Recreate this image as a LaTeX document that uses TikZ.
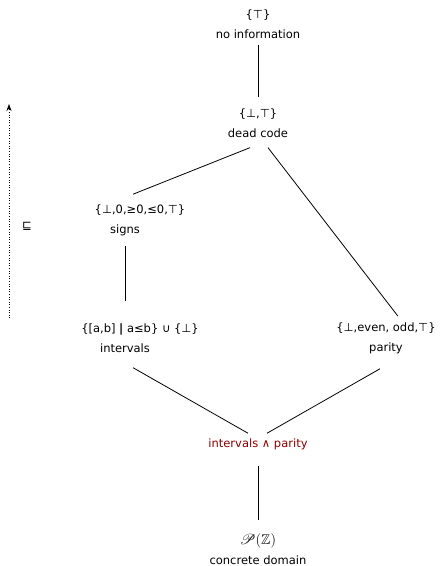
\documentclass[tikz,border=0pt]{standalone}
\usepackage{amssymb}
\usepackage{mathrsfs}
\usepackage{fontspec}
\setmainfont{DejaVu Sans}
\usetikzlibrary{arrows.meta}
\definecolor{darkred}{RGB}{139,0,0}
\begin{document}
\begin{tikzpicture}[x=1pt,y=-1pt,
  lat/.style={align=center,font=\fontsize{11.5}{20}\selectfont,inner sep=0pt,text=black},
  edge/.style={draw=black,line width=0.8pt}]
\useasboundingbox (0,0) rectangle (442,566);
\node[lat] (top) at (258,24) {\{⊤\}\\no information};
\node[lat] (dead) at (258,123) {\{⊥,⊤\}\\dead code};
\node[lat] (signs) at (140,220) {\{⊥,0,≥0,≤0,⊤\}\\\hspace*{-30pt}signs};
\node[lat] (intv) at (140,338) {\{[a,b] {\bfseries|} a≤b\} ∪ \{⊥\}\\\hspace*{-30pt}intervals};
\node[lat] (par) at (386,338) {\{⊥,even, odd,⊤\}\\parity};
\node[lat,text=darkred] (prod) at (258,444) {intervals ∧ parity};
\node[lat] (conc) at (258,549) {\fontsize{14}{20}\selectfont$\mathscr{P}(\mathbb{Z})$\\concrete domain};
\draw[edge] ([yshift=-6]top.south) -- ([yshift=11]dead.north);
\draw[edge] ([xshift=-8,yshift=-10]dead.south) -- ([xshift=-7,yshift=10]signs.north);
\draw[edge] ([xshift=10,yshift=-10]dead.south) -- ([xshift=12,yshift=6]par.north);
\draw[edge] ([xshift=-15,yshift=-10]signs.south) -- ([xshift=-15,yshift=22]intv.north);
\draw[edge] ([xshift=-7,yshift=-15]intv.south) -- ([xshift=-10,yshift=5]prod.north);
\draw[edge] ([xshift=-6,yshift=-15]par.south) -- ([xshift=9,yshift=5]prod.north);
\draw[edge] ([yshift=-16]prod.south) -- ([yshift=13]conc.north);
\coordinate (ab) at (9,318);
\coordinate (at) at (9,104);
\draw[dotted,line width=0.6pt,-{Stealth[length=7pt,width=5pt]}] (ab) -- (at);
\node[lat] (sq) at (27,226) {⊑};
\end{tikzpicture}
\end{document}
